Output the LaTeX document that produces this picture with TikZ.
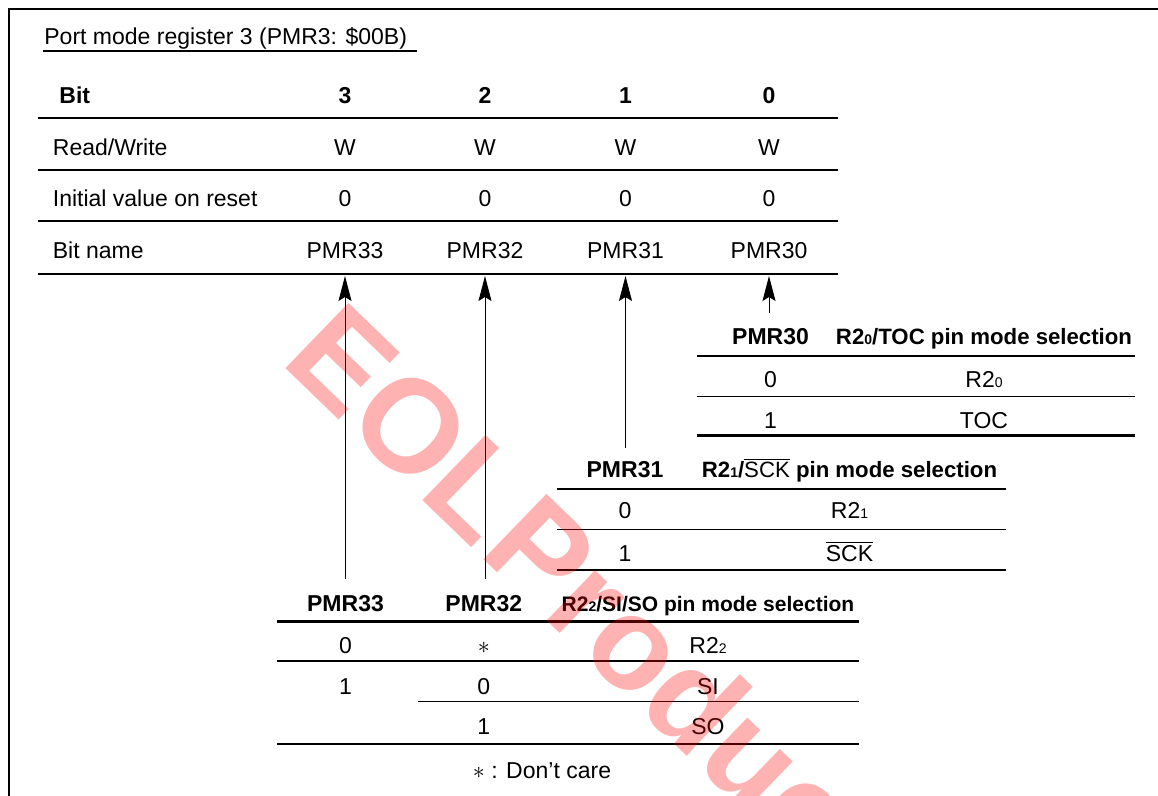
\documentclass[tikz,border=0pt]{standalone}
\usepackage{fontspec}
\setmainfont{Liberation Sans}
\usetikzlibrary{arrows.meta,positioning}
\tikzset{
  frame line/.style = {line width=1.1pt},
  thickrule/.style  = {line width=1.2pt},
  thinrule/.style   = {line width=0.6pt},
  regcell/.style    = {anchor=base, inner sep=0pt, font=\fontsize{11.5}{14}\selectfont},
  headcell/.style   = {regcell, font=\fontsize{11.5}{14}\selectfont\bfseries},
  selhead/.style    = {regcell, font=\fontsize{11.1}{14}\selectfont\bfseries},
  rowlabel/.style   = {regcell, anchor=base west},
  bitarrow/.style   = {-{Stealth[length=12.5pt,width=6.5pt,inset=2pt]}, line width=0.5pt},
  wmark/.style      = {anchor=base west, inner sep=0pt, rotate=-44, text=red,
                       text opacity=0.3, font=\fontsize{66}{66}\selectfont\bfseries},
}
\newcommand\lowdig[1]{{\fontsize{7}{8}\selectfont #1}}
\newcommand\barsig[1]{$\overline{\hbox{#1}}$}

\begin{document}
\begin{tikzpicture}[x=0.5pt,y=-0.5pt]
  \useasboundingbox (0,0) rectangle (1158,796);
  % frame
  \draw[frame line] (9,796) -- (9,9) -- (1158,9);

  % title
  \node[rowlabel] (title) at (44,45) {Port mode register 3 (PMR3: \$00B)};
  \draw[thinrule] (43,51) -- (417,51);

  % register table
  \node[rowlabel, font=\fontsize{11.5}{14}\selectfont\bfseries] (bit) at (59,104) {Bit};
  \node[rowlabel] (rw)    at (52.5,156)   {Read/Write};
  \node[rowlabel] (init)  at (52.5,206.7) {Initial value on reset};
  \node[rowlabel] (bname) at (52.5,258.3) {Bit name};
  \foreach \b/\x in {3/345,2/485,1/625.5,0/769} {
    \node[headcell] (bit\b)  at (\x,104)   {\b};
    \node[regcell]  (rw\b)   at (\x,156)   {W};
    \node[regcell]  (init\b) at (\x,206.7) {0};
    \node[regcell]  (name\b) at (\x,258.3) {PMR3\b};
    \coordinate (tip\b) at (\x,276);
  }
  \draw[thickrule] (38,118.3) -- (838,118.3);
  \draw[thinrule]  (38,170)   -- (838,170);
  \draw[thinrule]  (38,221)   -- (838,221);
  \draw[thickrule] (38,274.3) -- (838,274.3);

  % PMR30 table
  \node[headcell] (h30)   at (770.5,345) {PMR30};
  \node[selhead]  (h30s)  at (984,345)   {R2\lowdig{0}/TOC pin mode selection};
  \node[regcell]  (v30a)  at (770.5,387.3) {0};
  \node[regcell]  (s30a)  at (984,387.3)   {R2\lowdig{0}};
  \node[regcell]  (v30b)  at (770.5,428.3) {1};
  \node[regcell]  (s30b)  at (984,428.3)   {TOC};
  \draw[thickrule] (696.5,356)   -- (1135,356);
  \draw[thinrule]  (696.5,396.7) -- (1135,396.7);
  \draw[thickrule] (696.5,435.7) -- (1135,435.7);

  % PMR31 table
  \node[headcell] (h31)   at (625,478)  {PMR31};
  \node[selhead]  (h31s)  at (849.5,478) {R2\lowdig{1}/{\mdseries\barsig{SCK}} pin mode selection};
  \node[regcell]  (v31a)  at (625,519)   {0};
  \node[regcell]  (s31a)  at (849.5,519) {R2\lowdig{1}};
  \node[regcell]  (v31b)  at (625,561.7) {1};
  \node[regcell]  (s31b)  at (849.5,561.7) {\barsig{SCK}};
  \draw[thickrule] (557,489.3) -- (1006,489.3);
  \draw[thinrule]  (557,529.3) -- (1006,529.3);
  \draw[thickrule] (557,570)   -- (1006,570);

  % PMR33/PMR32 table
  \node[headcell] (h33)   at (345.5,611.7) {PMR33};
  \node[headcell] (h32)   at (483.8,611.7) {PMR32};
  \node[selhead, font=\fontsize{10.5}{14}\selectfont\bfseries] (h32s) at (708,611.7)
    {R2\lowdig{2}/SI/SO pin mode selection};
  \node[regcell]  (v33a)  at (345.5,653.3) {0};
  \node[regcell]  (v32a)  at (483.8,653.3) {$\ast$};
  \node[regcell]  (s32a)  at (708,653.3)   {R2\lowdig{2}};
  \node[regcell]  (v33b)  at (345.5,695)   {1};
  \node[regcell]  (v32b)  at (483.8,695)   {0};
  \node[regcell]  (s32b)  at (708,695)     {SI};
  \node[regcell]  (v32c)  at (483.8,735)   {1};
  \node[regcell]  (s32c)  at (708,735)     {SO};
  \node[regcell]  (note)  at (542,778.3)   {$\ast$ : Don't care};
  \draw[thickrule] (277.4,621.7) -- (859.4,621.7);
  \draw[thinrule]  (277.4,661)   -- (859.4,661);
  \draw[thinrule]  (417.7,701.3) -- (859.4,701.3);
  \draw[thickrule] (277.4,744)   -- (859.4,744);

  % bit arrows
  \coordinate (tail3) at (345,579);
  \coordinate (tail2) at (485,579);
  \coordinate (tail1) at (625.5,448);
  \coordinate (tail0) at (769,313);
  \foreach \b in {3,2,1,0}
    \draw[bitarrow] (tail\b) -- (tip\b);

  % watermark
  \begin{scope}
    \clip (0,0) rectangle (1158,796);
    \node[wmark] (eol) at (279,362) {EOL\kern-0.25em\ Products};
  \end{scope}
\end{tikzpicture}
\end{document}
